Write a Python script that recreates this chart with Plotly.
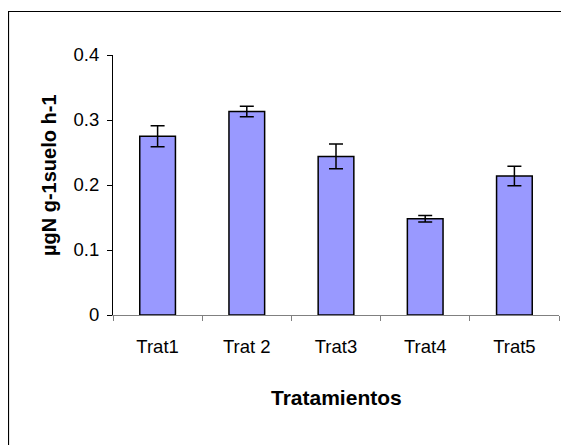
import plotly.graph_objects as go

categories = ["Trat1", "Trat 2", "Trat3", "Trat4", "Trat5"]
values = [0.275, 0.313, 0.244, 0.148, 0.214]
errors = [0.016, 0.008, 0.019, 0.005, 0.015]
y_ticks = [0, 0.1, 0.2, 0.3, 0.4]
y_ticklabels = ["0", "0.1", "0.2", "0.3", "0.4"]

# the page body has an 8px default margin, so work in page coords minus 8
OFF = 8
W, H = 569 - OFF, 445 - OFF
L, R, T, B = 113 - OFF, 10, 55 - OFF, 130
pw, ph = W - L - R, H - T - B
y0_page = 315  # page y of the plot bottom


def px_x(page_x):
    return (page_x - 113) / pw


def px_y(page_y):
    return (y0_page - page_y) / ph


fig = go.Figure()
fig.add_trace(go.Bar(
    x=categories, y=values,
    marker=dict(color="#9999FF", line=dict(color="#000000", width=1.5)),
    error_y=dict(type="data", array=errors, visible=True, color="#000000",
                 thickness=1.5, width=7),
    width=0.4,
))

font = "Liberation Sans, Arial, sans-serif"
fig.update_layout(
    width=W, height=H,
    margin=dict(l=L, r=R, t=T, b=B),
    paper_bgcolor="white", plot_bgcolor="white",
    showlegend=False,
    font=dict(family=font, size=18, color="#000000"),
    xaxis=dict(
        type="category", tickson="boundaries", ticks="outside", ticklen=5,
        tickcolor="#808080", showline=True, linecolor="#808080", linewidth=1,
        showgrid=False, zeroline=False, tickfont=dict(size=18.5),
        range=[-0.5, 4.5], ticklabelstandoff=15,
    ),
    yaxis=dict(
        range=[0, 0.4], tickvals=y_ticks, ticktext=y_ticklabels,
        ticks="outside", ticklen=5, tickcolor="#000000",
        showline=True, linecolor="#000000", linewidth=1,
        showgrid=False, zeroline=False, tickfont=dict(size=18.5),
        ticklabelstandoff=4,
    ),
    annotations=[
        dict(text="<b>Tratamientos</b>", xref="paper", yref="paper",
             x=px_x(336), y=px_y(397), showarrow=False,
             font=dict(size=21, family=font), xanchor="center", yanchor="middle"),
        dict(text="<b>µgN g-1suelo h-1</b>", xref="paper", yref="paper",
             x=px_x(49), y=px_y(175), textangle=-90, showarrow=False,
             font=dict(size=20, family=font), xanchor="center", yanchor="middle"),
    ],
    shapes=[
        dict(type="rect", xref="paper", yref="paper",
             x0=px_x(8.5), y0=-2, x1=3, y1=px_y(11.5),
             line=dict(color="#000000", width=1.2), layer="below"),
    ],
)

fig.write_html("out.html")
